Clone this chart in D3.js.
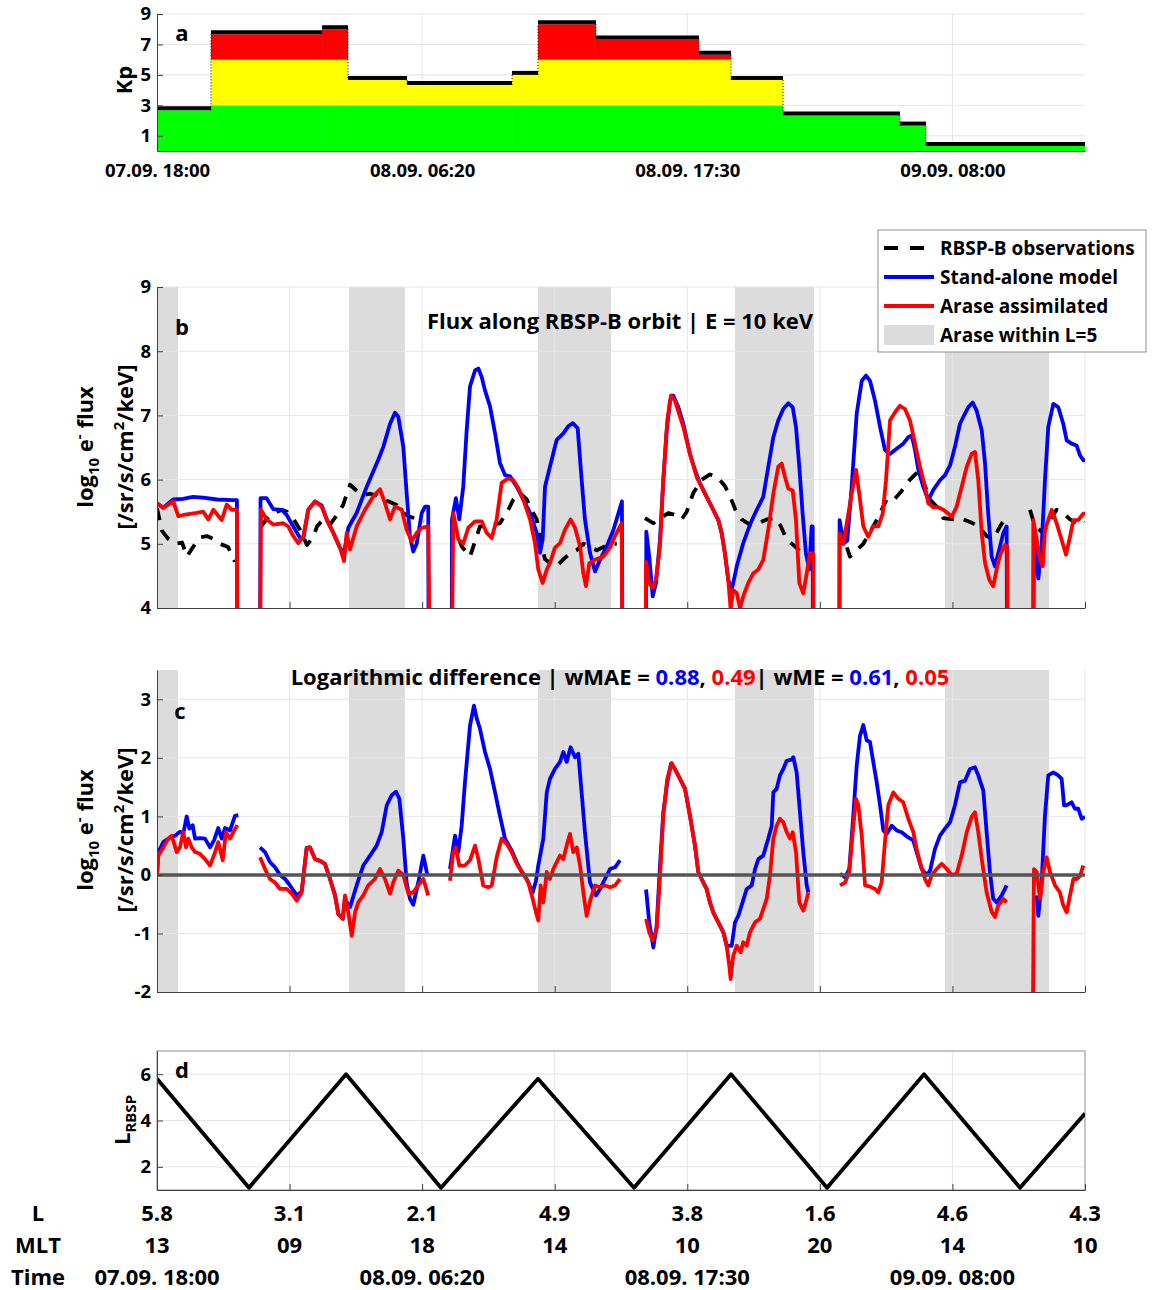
<!DOCTYPE html>
<html>
<head>
<meta charset="utf-8">
<script src="https://cdn.jsdelivr.net/npm/d3@7"></script>
<style>
  body { margin: 0; background: #fff; }
  svg text { font-family: "Open Sans", "Noto Sans", sans-serif; font-weight: bold; fill: #000; }
</style>
</head>
<body>
<div id="chart"></div>
<script>
// x is the orbit sample index, 100 samples between labelled ticks
const xTicks = [0, 100, 200, 300, 400, 500, 600, 700];
const lLabels = ["5.8", "3.1", "2.1", "4.9", "3.8", "1.6", "4.6", "4.3"];
const mltLabels = ["13", "09", "18", "14", "10", "20", "14", "10"];
const timeTicks = [0, 200, 400, 600];
const timeLabels = ["07.09. 18:00", "08.09. 06:20", "08.09. 17:30", "09.09. 08:00"];

// Kp steps
const kpEdges = [0, 40.7, 124.5, 144.1, 188.6, 267.8, 287.4, 331.1, 408.8, 433, 472.2, 560.4, 580, 700];
const kpValues = [2.67, 7.67, 8.0, 4.67, 4.33, 5.0, 8.33, 7.33, 6.33, 4.67, 2.33, 1.67, 0.33];

// Arase within L=5 intervals
const shadeStart = [0, 144.8, 287.4, 436, 594.4];
const shadeEnd = [15.8, 187, 342.5, 495.5, 672.8];

// RBSP L shell turning points
const lIdx = [0, 69.4, 142.6, 214.2, 287.4, 359.8, 433, 505.4, 578.6, 651, 700];
const lVal = [5.8, 1.1, 6.0, 1.1, 5.8, 1.1, 6.0, 1.1, 6.0, 1.1, 4.3];

// panel b: log10 flux, segments of [index, value]
const obsB = [
  [[0,5.55],[3.8,5.2],[8.3,5.08],[13.6,5.0],[18.9,5.02],[22.6,4.8],[27.2,4.95],[32.4,5.1],[37.7,5.12],[42.2,5.08],[47.5,5.0],[53.6,4.95],[58.8,4.72]],
  [[78.4,5.27],[85.2,5.45],[94.3,5.53],[98.1,5.5],[102.6,5.4],[107.9,5.22],[113.1,4.98],[117.7,5.1],[120.7,5.27],[125.2,5.38],[130.5,5.3],[135.8,5.45],[140.3,5.6],[145.6,5.92],[150.9,5.82],[155.4,5.76],[160.7,5.78],[165.9,5.75],[170.5,5.69],[175.8,5.65],[181,5.6],[185.6,5.48],[190.8,5.42],[196.1,5.39],[201.4,5.35]],
  [[222.3,5.38],[229.8,4.96],[236.1,4.8],[243.6,5.27],[248.7,5.27],[258.7,5.32],[265,5.53],[268.8,5.69],[273.8,5.79],[278.9,5.69],[282.6,5.53],[286.4,5.38],[288.9,5.07],[292.7,4.76],[296.4,4.7],[301.5,4.65],[306.5,4.76],[311.5,4.85],[316.6,4.9],[321.6,5.0],[331.7,4.9],[341.7,5.0],[346.8,5.0]],
  [[368.1,5.4],[374.4,5.32],[385.7,5.48],[390.7,5.45],[395.8,5.38],[399.6,5.5],[404.5,5.79],[410.9,6.0],[417.1,6.08],[422.2,6.05],[428.4,5.9],[432.2,5.74],[437.3,5.48],[441,5.38],[447.3,5.3],[453.6,5.32],[459.9,5.38],[466.2,5.4],[469.9,5.3],[475,5.07],[481.2,4.96],[486.3,4.86]],
  [[515.2,5.27],[522.7,4.8],[532.8,5.0],[542.9,5.37],[550.4,5.69],[555.2,5.67],[560.4,5.79],[568,6.0],[574.3,6.13],[579.3,5.9],[583.1,5.69],[588.1,5.58],[593.1,5.4],[600.4,5.38],[608.2,5.38],[615.5,5.32],[620.8,5.25],[625.8,5.12],[630.8,5.07],[635.9,5.27],[640.9,5.43]],
  [[658.5,5.53],[662.3,5.27],[668.5,5.17],[673.6,5.37],[678.6,5.53],[683.6,5.48],[688.7,5.38],[693.7,5.32],[698.7,5.37],[700,5.35]]
];
const modelB = [
  [[0,5.63],[4.5,5.56],[12.1,5.69],[19.6,5.7],[27.2,5.73],[34.7,5.72],[45.3,5.69],[57.3,5.68],[60.3,5.68],[60.6,3]],
  [[77.7,3],[78.1,5.71],[82.7,5.71],[87.7,5.54],[94.1,5.53],[97.8,5.45],[102.8,5.27],[107.9,5.09],[110.4,5.08],[114.1,5.53],[119.2,5.66],[124.2,5.6],[128,5.38],[133,5.17],[138,4.94],[141.1,4.85],[144.3,5.25],[150.6,5.48],[158.2,5.89],[166.9,6.31],[170.7,6.51],[175.8,6.87],[179.5,7.04],[182,6.98],[185.8,6.51],[188.3,5.79],[190.8,5.12],[193.3,4.88],[195.9,5.0],[199.7,5.48],[202.2,5.58],[204.6,5.58],[204.9,3]],
  [[222.3,3],[222.5,5.38],[225.5,5.71],[228,5.38],[231,5.89],[233.6,6.77],[236.1,7.45],[239.9,7.7],[242.4,7.73],[244.9,7.6],[247.4,7.39],[251.2,7.14],[255,6.72],[258.7,6.26],[262.5,6.07],[266.3,6.05],[271.3,5.89],[276.3,5.69],[281.4,5.48],[286.4,5.17],[288.9,4.86],[290.9,5.07],[292.7,5.89],[296.4,6.2],[301.5,6.62],[306.5,6.72],[310.2,6.83],[313.6,6.88],[317.3,6.8],[320.3,6.0],[322.8,5.38],[326.6,4.86],[330.4,4.57],[334.2,4.75],[339.2,4.96],[344,5.2],[347.7,5.45],[350.7,5.66],[351.1,3]],
  [[368.9,3],[369.1,5.19],[371.3,4.8],[373.9,4.18],[376.4,4.39],[379.4,5.06],[381.9,5.99],[384.5,6.77],[387,7.23],[389.4,7.31],[393.2,7.13],[397,6.87],[402,6.4],[405.8,6.15],[409.6,5.94],[414.6,5.73],[419.6,5.53],[423.4,5.37],[426,5.16],[428.4,4.85],[430.9,4.44],[433.5,4.28],[437.3,4.65],[442.2,5.01],[447.3,5.3],[452.4,5.53],[457.3,5.73],[461.1,6.2],[464.9,6.66],[468.6,6.92],[472.4,7.1],[476.2,7.19],[479.5,7.13],[482,6.82],[484.5,6.2],[487,5.47],[489.5,4.85],[492,4.6],[493.8,5.27],[494.6,5.27],[494.8,3]],
  [[514.7,3],[514.9,5.37],[517.7,5.0],[520.7,5.05],[524,5.89],[527.8,7.03],[531.6,7.54],[534.8,7.62],[537.8,7.54],[541.6,7.23],[545.4,6.82],[549.1,6.46],[552.9,6.4],[557.9,6.48],[562.9,6.56],[566.7,6.66],[569.3,6.69],[571.8,6.46],[574.3,6.15],[578,5.89],[581.8,5.68],[585.6,5.84],[590.6,5.99],[594.4,6.07],[598.2,6.22],[601.9,6.51],[605.7,6.87],[609.5,7.03],[612,7.13],[615.3,7.2],[618.3,7.07],[622.1,6.77],[624.6,6.25],[627,5.47],[629.6,4.8],[632.1,4.65],[635.9,4.96],[638.4,5.17],[640.9,5.27],[641.2,3]],
  [[661,3],[661.5,5.1],[664.8,4.46],[667.3,4.96],[669.8,5.99],[672.3,6.82],[676.1,7.18],[679.8,7.13],[683.6,6.87],[686.2,6.61],[689.9,6.56],[693.7,6.53],[696.2,6.38],[698.7,6.3],[700,6.3]]
];
const assimB = [
  [[0,5.63],[4.8,5.56],[12.3,5.66],[16.1,5.43],[22.4,5.46],[29.9,5.48],[34.9,5.5],[38.7,5.38],[42.5,5.53],[48.8,5.37],[52.6,5.61],[56.3,5.53],[60.3,5.53],[60.6,3]],
  [[77.7,3],[78.4,5.53],[82.7,5.38],[87.7,5.3],[95.3,5.32],[99,5.27],[102.8,5.12],[106.6,5.01],[110.4,5.12],[114.1,5.53],[119.2,5.66],[124.2,5.58],[128,5.38],[133,5.17],[138,4.94],[141.1,4.73],[143.1,5.17],[145.6,4.91],[150.6,5.27],[156.9,5.53],[163.2,5.74],[168.2,5.85],[172,5.63],[175.8,5.38],[179.5,5.58],[184.6,5.53],[188.3,5.22],[192.1,5.04],[195.9,5.17],[199.7,5.25],[204.6,5.27],[205.9,3]],
  [[222.3,3],[223.5,5.48],[227.3,5.07],[231,5.0],[234.8,5.25],[239.9,5.35],[244.9,5.35],[248.7,5.17],[252.5,5.09],[256.2,5.38],[260,5.95],[265,6.02],[268.8,5.99],[272.5,5.87],[276.3,5.69],[281.4,5.38],[285.1,5.01],[287.6,4.6],[290.9,4.39],[294,4.6],[296.4,4.7],[300.2,4.94],[304,5.01],[307.8,5.22],[312,5.38],[315.3,5.25],[319.1,4.96],[321.6,4.54],[323.6,4.34],[326.1,4.7],[330.4,4.75],[336.6,4.8],[341.7,4.94],[345.5,5.12],[350.5,5.32],[351.1,3]],
  [[368.5,3],[368.9,4.72],[371.3,4.39],[373.9,4.31],[376.4,4.44],[379.4,4.96],[381.9,5.99],[384.9,6.92],[387.7,7.31],[390.7,7.23],[394.5,6.98],[397,6.82],[402,6.4],[407.1,6.04],[414.6,5.73],[419.6,5.53],[423.4,5.37],[426,5.16],[428.4,4.85],[430.9,4.44],[432.7,3.98],[434.7,4.28],[437.3,4.23],[439.8,4.0],[442.2,4.18],[446,4.39],[449.8,4.54],[453.6,4.6],[457.3,4.75],[461.1,5.22],[464.9,5.78],[468.6,6.2],[471.2,6.25],[473.7,6.04],[476.2,5.86],[479.5,5.83],[482,5.37],[484.5,4.39],[487.5,4.23],[490.1,4.54],[492.6,4.85],[495.1,4.85],[495.3,3]],
  [[514.7,3],[514.9,5.16],[517.7,5.0],[520.7,5.37],[524,5.78],[527.3,6.15],[529.7,5.78],[532.8,5.27],[536.5,5.11],[540.3,5.27],[544.1,5.27],[547.4,5.47],[549.9,5.99],[552.9,6.92],[556.7,7.05],[560.4,7.15],[564.2,7.1],[568,6.92],[571.8,6.56],[575.5,6.2],[579.3,5.89],[581.8,5.63],[585.6,5.57],[589.3,5.57],[593.1,5.53],[596.9,5.47],[599.5,5.42],[603.2,5.58],[607,5.89],[610.8,6.2],[614.5,6.4],[617,6.43],[619.5,5.99],[622.1,5.16],[624.6,4.7],[627.8,4.44],[630.8,4.34],[633.8,4.65],[636.4,4.85],[639.6,4.98],[641.4,4.96],[641.7,3]],
  [[660.8,3],[661,5.37],[663.6,5.06],[666.1,4.75],[668.1,4.65],[669.8,5.22],[672.3,5.37],[674.9,5.53],[678.6,5.32],[682.4,5.06],[685.7,4.83],[688.7,5.11],[691.2,5.37],[694.9,5.37],[698.7,5.47],[700,5.47]]
];

// panel c: logarithmic difference model - observation
const modelC = [
  [[0,0],[1,0.39],[4.8,0.56],[9.8,0.64],[13.6,0.67],[17.3,0.74],[19.8,0.7],[22.4,1.0],[24.4,0.79],[26.9,0.85],[28.7,0.62],[32.4,0.63],[36.2,0.62],[40,0.47],[43,0.59],[46.2,0.8],[48.8,0.62],[51.3,0.8],[55.1,0.76],[58.8,1.01],[61.3,1.02]],
  [[77.7,0.47],[81.5,0.39],[85.2,0.22],[89,0.13],[92.8,0],[96.6,-0.07],[100.3,-0.18],[105.4,-0.35],[109.1,-0.29],[112.9,0.46],[115.4,0.47],[119.2,0.27],[123,0.24],[126.7,0.19],[130.5,-0.07],[134.3,-0.35],[136.8,-0.67],[140.1,-0.75],[141.8,-0.4],[144.3,-0.52],[145.6,-0.55],[150.6,-0.18],[155.6,0.16],[160.7,0.33],[165.7,0.5],[169.5,0.73],[173.3,1.19],[177,1.36],[180.3,1.42],[182.8,1.3],[185.8,0.62],[188.3,-0.13],[190.8,-0.41],[193.3,-0.51],[197.1,-0.13],[200.9,0.33],[203.9,0]],
  [[221,0.1],[224.8,0.67],[227.3,0.39],[229.8,0.84],[232.3,1.58],[236.1,2.55],[239.1,2.89],[241.2,2.67],[243.6,2.5],[247.4,2.1],[251.2,1.81],[255,1.41],[258.7,1.01],[262.5,0.62],[267.5,0.42],[271.3,0.22],[275.1,0.05],[278.9,-0.07],[280.1,-0.13],[283.4,-0.3],[285.9,-0.1],[287.6,0.16],[291.4,0.62],[294,1.41],[296.4,1.64],[300.2,1.81],[304,1.93],[306.5,2.1],[309,1.93],[312,2.18],[315.3,2.01],[317.8,2.07],[320.3,1.41],[322.8,0.73],[326.6,-0.13],[331.1,-0.35],[334.2,-0.24],[337.9,-0.07],[341.7,0.1],[345.5,0.13],[349.2,0.25]],
  [[368.9,-0.25],[371.3,-0.81],[374.4,-1.24],[376.9,-0.87],[379.4,0.16],[381.9,1.07],[384.9,1.58],[387.7,1.9],[390.7,1.81],[394.5,1.64],[398.3,1.47],[402,1.01],[405.8,0.5],[408.3,0.05],[412.1,-0.13],[414.6,-0.24],[417.1,-0.47],[419.6,-0.64],[423.4,-0.81],[427.2,-0.98],[429.7,-1.21],[433.5,-1.21],[436,-0.81],[438.5,-0.7],[441,-0.52],[444.8,-0.24],[448.6,-0.18],[451.1,0.1],[453.6,0.27],[457.3,0.33],[461.1,0.62],[463.7,0.84],[464.9,1.41],[467.4,1.47],[469.9,1.7],[472.4,1.81],[475,1.95],[478.7,1.97],[480,2.01],[482.5,1.75],[485,1.07],[487.5,0.39],[490.1,-0.18],[491.3,-0.3]],
  [[515.2,0.02],[519,-0.04],[522.2,0.1],[525.2,1.01],[527.8,1.87],[530.3,2.38],[532.8,2.56],[535.3,2.3],[537.8,2.27],[540.3,1.93],[542.9,1.58],[545.4,1.19],[547.9,0.76],[550.4,0.7],[554.2,0.84],[558,0.76],[561.7,0.73],[566.7,0.64],[570.5,0.59],[573,0.39],[576.8,0.1],[580.6,0],[583.1,0.07],[586.8,0.44],[590.6,0.67],[594.4,0.79],[598.2,0.9],[601.9,1.19],[605.7,1.58],[609.5,1.61],[613.2,1.81],[617,1.84],[619.5,1.7],[623.3,1.44],[625.8,0.73],[628.3,0.05],[630.8,-0.41],[633.4,-0.47],[637.2,-0.35],[640.9,-0.18]],
  [[663.6,-0.35],[664.8,-0.7],[667.3,-0.13],[669.8,1.01],[672.3,1.7],[676.1,1.75],[679.8,1.7],[682.4,1.64],[684.2,1.19],[686.2,1.19],[689.9,1.24],[692.4,1.13],[694.9,1.13],[697.5,0.96],[700,0.99]]
];
const assimC = [
  [[0,0],[1,0.33],[4.8,0.47],[8.5,0.62],[11.1,0.67],[14.9,0.39],[17.3,0.47],[19.8,0.73],[21.9,0.47],[23.6,0.62],[26.2,0.47],[28.7,0.39],[32.4,0.36],[36.2,0.27],[40,0.16],[43.8,0.39],[46.2,0.56],[49.6,0.25],[52,0.73],[55.1,0.62],[57.6,0.73],[60.6,0.85]],
  [[77.7,0.3],[81.5,0.1],[85.2,-0.07],[89,-0.13],[92.8,-0.24],[97.8,-0.24],[101.6,-0.32],[105.4,-0.44],[109.1,-0.3],[112.9,0.46],[115.4,0.47],[119.2,0.27],[123,0.24],[126.7,0.19],[130.5,-0.07],[134.3,-0.35],[136.8,-0.67],[140.1,-0.75],[141.8,-0.35],[144.3,-0.64],[146.9,-1.04],[149.4,-0.64],[151.8,-0.47],[155.6,-0.35],[159.4,-0.18],[164.4,-0.07],[168.2,0.1],[172,-0.07],[175.8,-0.32],[178.2,-0.13],[182,0.07],[185.8,0],[189.6,-0.32],[193.3,-0.3],[197.1,-0.18],[200.9,-0.07],[204.6,-0.35]],
  [[221,-0.1],[223.5,0.39],[225.5,0.47],[228,0.16],[232.3,0.16],[236.1,0.25],[239.9,0.5],[242.4,0.27],[246.1,-0.18],[249.9,-0.21],[252.5,-0.18],[256.2,0.3],[260,0.62],[263.8,0.53],[267.5,0.39],[271.3,0.19],[276.3,0.02],[280.1,-0.13],[283.4,-0.41],[285.9,-0.64],[287.6,-0.78],[289.4,-0.18],[291.4,-0.47],[294,0.05],[296.4,-0.07],[298.9,0.1],[301.5,0.22],[304,0.33],[306.5,0.27],[309,0.5],[311.5,0.7],[314,0.39],[316.6,0.47],[319.1,0.16],[321.6,-0.3],[324.1,-0.7],[327.1,-0.41],[330.4,-0.18],[334.2,-0.21],[337.9,-0.18],[341.7,-0.21],[345.5,-0.18],[349.2,-0.07]],
  [[368.9,-0.75],[371.3,-0.98],[373.9,-1.12],[376.9,-0.92],[379.4,-0.05],[381.9,1.01],[384.9,1.64],[388.2,1.91],[392,1.75],[395.8,1.58],[398.3,1.47],[402,1.01],[405.8,0.5],[408.3,0.05],[412.1,-0.13],[414.6,-0.24],[417.1,-0.47],[419.6,-0.64],[423.4,-0.81],[427.2,-0.98],[429.7,-1.21],[431.7,-1.55],[432.7,-1.78],[434.7,-1.38],[437.3,-1.21],[440.3,-1.32],[442.2,-1.15],[444.8,-1.21],[447.3,-0.98],[451.1,-0.81],[454.8,-0.75],[459.9,-0.41],[462.4,0],[464.9,0.62],[467.4,0.84],[469.9,0.96],[472.4,0.9],[475,0.73],[477.5,0.62],[479.5,0.73],[482,0.39],[484.5,-0.47],[487.5,-0.61],[490.1,-0.41],[491.3,-0.3]],
  [[515.2,-0.18],[519,-0.13],[522.2,0.05],[524.8,0.73],[527.3,1.3],[529,1.19],[531.6,0.67],[534.1,-0.18],[537.8,-0.2],[541.6,-0.24],[544.1,-0.3],[546.6,-0.13],[549.1,0.56],[551.6,1.19],[555.4,1.41],[559.2,1.3],[562.9,1.24],[566.7,0.96],[570.5,0.73],[573,0.44],[575.5,0.22],[579.3,-0.07],[581.8,-0.18],[584.4,0],[588.1,0.1],[591.9,0.19],[595.7,0.1],[599.5,0],[603.2,0.02],[607,0.33],[610.8,0.73],[614.5,0.99],[617,1.07],[619.5,0.73],[622.1,0.27],[625.8,-0.3],[629.6,-0.63],[632.1,-0.72],[634.6,-0.52],[638.4,-0.41],[640.9,-0.47]],
  [[660.5,-3],[661.5,0.1],[663.6,0.05],[666.1,-0.41],[668.5,0.05],[671.1,0.3],[673.6,0.05],[677.4,-0.18],[681.1,-0.3],[683.6,-0.52],[686.2,-0.64],[688.7,-0.35],[691.2,-0.07],[693.7,-0.07],[696.2,-0.02],[698.7,0.16]]
];

const BLUE = "#0000ff", RED = "#ff0000", SHADE = "#dcdcdc", GRID = "#e6e6e6", AXIS = "#404040";
const LW = 3.8;

const svg = d3.select("#chart").append("svg")
  .attr("width", 1155)
  .attr("height", 1290);

const x = d3.scaleLinear().domain([0, 700]).range([157, 1085]);

const yA = d3.scaleLinear().domain([0, 9]).range([151, 14]);
const yB = d3.scaleLinear().domain([4, 9]).range([608, 287]);
const yC = d3.scaleLinear().domain([-2, 3.5]).range([992, 670]);
const yD = d3.scaleLinear().domain([1, 7]).range([1190, 1051]);

// clip path for one panel
function setupPanel(name, y) {
  const g = svg.append("g");
  svg.append("clipPath").attr("id", "clip-" + name)
    .append("rect")
    .attr("x", x(0)).attr("y", y.range()[1])
    .attr("width", x(700) - x(0)).attr("height", y.range()[0] - y.range()[1]);
  return g;
}

function drawGrid(g, y, yTicks, xGrid) {
  g.append("g").selectAll("line")
    .data(yTicks).enter().append("line")
      .attr("x1", x(0)).attr("x2", x(700))
      .attr("y1", d => y(d)).attr("y2", d => y(d))
      .attr("stroke", GRID).attr("stroke-width", 1);
  g.append("g").selectAll("line")
    .data(xGrid).enter().append("line")
      .attr("x1", d => x(d)).attr("x2", d => x(d))
      .attr("y1", y.range()[0]).attr("y2", y.range()[1])
      .attr("stroke", GRID).attr("stroke-width", 1);
}

function drawAxes(g, y, yTicks, bottomTicks, bottomLabels, bottomTickSize) {
  const left = g.append("g")
    .attr("transform", "translate(" + x(0) + ",0)")
    .call(d3.axisLeft(y).tickValues(yTicks).tickSize(-6).tickSizeOuter(0).tickPadding(6)
      .tickFormat(d => String(d)));
  const bottom = g.append("g")
    .attr("transform", "translate(0," + y.range()[0] + ")")
    .call(d3.axisBottom(x).tickValues(bottomTicks).tickSize(bottomTickSize).tickSizeOuter(0).tickPadding(13)
      .tickFormat((d, i) => bottomLabels ? bottomLabels[i] : ""));
  [left, bottom].forEach(a => {
    a.attr("font-size", 18.5).attr("color", AXIS);
    a.selectAll("text").style("fill", "#000");
  });
}

function drawShading(g, y) {
  g.append("g").selectAll("rect")
    .data(shadeStart).enter().append("rect")
      .attr("x", d => x(d))
      .attr("width", (d, i) => x(shadeEnd[i]) - x(d))
      .attr("y", y.range()[1])
      .attr("height", y.range()[0] - y.range()[1])
      .attr("fill", SHADE);
}

function drawSeries(g, y, segs, color, dash, clipName) {
  const line = d3.line().x(d => x(d[0])).y(d => y(d[1]));
  g.append("g").attr("clip-path", "url(#clip-" + clipName + ")")
    .selectAll("path")
    .data(segs).enter().append("path")
      .attr("d", line)
      .attr("fill", "none")
      .attr("stroke", color)
      .attr("stroke-width", LW)
      .attr("stroke-linejoin", "round")
      .attr("stroke-dasharray", dash || null);
}

function yLabel(px, py, parts) {
  const t = svg.append("text")
    .attr("transform", "translate(" + px + "," + py + ") rotate(-90)")
    .attr("text-anchor", "middle")
    .attr("font-size", 22);
  parts.forEach(p => {
    t.append("tspan").text(p.t)
      .attr("font-size", p.s || 22)
      .attr("dy", p.dy || 0);
  });
}

function fluxLabel(cy) {
  yLabel(93, cy, [{t: "log"}, {t: "10", s: 15, dy: 6}, {t: " e", dy: -6}, {t: "-", s: 15, dy: -9}, {t: " flux", dy: 9}]);
  yLabel(133, cy, [{t: "[/sr/s/cm"}, {t: "2", s: 15, dy: -9}, {t: "/keV]", dy: 9}]);
}

function panelLetter(px, py, s) {
  svg.append("text").attr("x", px).attr("y", py).attr("text-anchor", "middle").attr("font-size", 22).text(s);
}

// ---------- panel a : Kp ----------
const gA = setupPanel("a", yA);
drawGrid(gA, yA, [1, 3, 5, 7, 9], [200, 400, 600]);

const kpBands = [[0, 3, "#00ff00"], [3, 6, "#ffff00"], [6, 9, "#ff0000"]];
kpValues.forEach((v, i) => {
  kpBands.forEach(b => {
    const top = Math.min(v, b[1]);
    if (top > b[0]) {
      gA.append("rect")
        .attr("x", x(kpEdges[i]))
        .attr("width", x(kpEdges[i + 1]) - x(kpEdges[i]))
        .attr("y", yA(top))
        .attr("height", yA(b[0]) - yA(top))
        .attr("fill", b[2]);
    }
  });
});
gA.append("g").selectAll("line")
  .data(kpValues).enter().append("line")
    .attr("x1", (d, i) => x(kpEdges[i])).attr("x2", (d, i) => x(kpEdges[i + 1]))
    .attr("y1", d => yA(d) - 2).attr("y2", d => yA(d) - 2)
    .attr("stroke", "#000").attr("stroke-width", 4);
gA.append("g").selectAll("line")
  .data(kpValues.slice(0, -1)).enter().append("line")
    .attr("x1", (d, i) => x(kpEdges[i + 1])).attr("x2", (d, i) => x(kpEdges[i + 1]))
    .attr("y1", d => yA(d)).attr("y2", (d, i) => yA(kpValues[i + 1]))
    .attr("stroke", "#000").attr("stroke-width", 1).attr("stroke-dasharray", "1,2");
drawAxes(gA, yA, [1, 3, 5, 7, 9], timeTicks, timeLabels, 0);
panelLetter(182, 41, "a");
yLabel(132, 80, [{t: "Kp"}]);

// ---------- panel b : flux ----------
const gB = setupPanel("b", yB);
drawShading(gB, yB);
drawGrid(gB, yB, [5, 6, 7, 8, 9], [100, 200, 300, 400, 500, 600, 700]);
drawSeries(gB, yB, obsB, "#000", "12,10", "b");
drawSeries(gB, yB, modelB, BLUE, null, "b");
drawSeries(gB, yB, assimB, RED, null, "b");
drawAxes(gB, yB, [4, 5, 6, 7, 8, 9], xTicks, null, -6);
panelLetter(182, 335, "b");
svg.append("text").attr("x", 620).attr("y", 329).attr("text-anchor", "middle").attr("font-size", 22)
  .text("Flux along RBSP-B orbit | E = 10 keV");
fluxLabel(447);

// legend
const legend = svg.append("g");
legend.append("rect").attr("x", 878).attr("y", 230).attr("width", 268).attr("height", 122)
  .attr("fill", "#fff").attr("stroke", "#8c8c8c").attr("stroke-width", 1);
const legendItems = [
  {label: "RBSP-B observations", color: "#000", dash: "14,12"},
  {label: "Stand-alone model", color: BLUE},
  {label: "Arase assimilated", color: RED},
  {label: "Arase within L=5", patch: SHADE}
];
legendItems.forEach((d, i) => {
  const ly = 248 + i * 29;
  if (d.patch) {
    legend.append("rect").attr("x", 884).attr("y", ly - 10).attr("width", 50).attr("height", 20).attr("fill", d.patch);
  } else {
    legend.append("line").attr("x1", 884).attr("x2", 934).attr("y1", ly).attr("y2", ly)
      .attr("stroke", d.color).attr("stroke-width", LW).attr("stroke-dasharray", d.dash || null);
  }
  legend.append("text").attr("x", 940).attr("y", ly + 7).attr("font-size", 19).text(d.label);
});

// ---------- panel c : difference ----------
const gC = setupPanel("c", yC);
drawShading(gC, yC);
drawGrid(gC, yC, [-1, 1, 2, 3], [100, 200, 300, 400, 500, 600, 700]);
drawSeries(gC, yC, modelC, BLUE, null, "c");
drawSeries(gC, yC, assimC, RED, null, "c");
gC.append("line").attr("x1", x(0)).attr("x2", x(700)).attr("y1", yC(0)).attr("y2", yC(0))
  .attr("stroke", "#555").attr("stroke-width", 3.5);
drawAxes(gC, yC, [-2, -1, 0, 1, 2, 3], xTicks, null, -6);
panelLetter(180, 719, "c");
const titleC = svg.append("text").attr("x", 620).attr("y", 685).attr("text-anchor", "middle").attr("font-size", 22);
[["Logarithmic difference | wMAE = ", "#000"], ["0.88", BLUE], [", ", "#000"], ["0.49", RED],
 ["| wME = ", "#000"], ["0.61", BLUE], [", ", "#000"], ["0.05", RED]].forEach(p => {
  titleC.append("tspan").text(p[0]).style("fill", p[1]);
});
fluxLabel(830);

// ---------- panel d : L of RBSP ----------
const gD = setupPanel("d", yD);
drawGrid(gD, yD, [2, 4, 6], [100, 200, 300, 400, 500, 600]);
gD.append("rect").attr("x", x(0)).attr("y", yD(7)).attr("width", x(700) - x(0)).attr("height", yD(1) - yD(7))
  .attr("fill", "none").attr("stroke", "#8c8c8c").attr("stroke-width", 1);
const lPoints = lIdx.map((d, i) => [d, lVal[i]]);
drawSeries(gD, yD, [lPoints], "#000", null, "d");
drawAxes(gD, yD, [2, 4, 6], xTicks, null, -6);
panelLetter(182, 1078, "d");
yLabel(130, 1120, [{t: "L"}, {t: "RBSP", s: 15, dy: 6}]);

// rows under the last panel
const rows = svg.append("g").attr("font-size", 22);
[["L", 1221], ["MLT", 1253], ["Time", 1285]].forEach(r => {
  rows.append("text").attr("x", 38).attr("y", r[1]).attr("text-anchor", "middle").text(r[0]);
});
rows.selectAll("text.l").data(lLabels).enter().append("text")
  .attr("x", (d, i) => x(xTicks[i])).attr("y", 1221).attr("text-anchor", "middle").text(d => d);
rows.selectAll("text.m").data(mltLabels).enter().append("text")
  .attr("x", (d, i) => x(xTicks[i])).attr("y", 1253).attr("text-anchor", "middle").text(d => d);
rows.selectAll("text.t").data(timeLabels).enter().append("text")
  .attr("x", (d, i) => x(timeTicks[i])).attr("y", 1285).attr("text-anchor", "middle").text(d => d);
</script>
</body>
</html>
